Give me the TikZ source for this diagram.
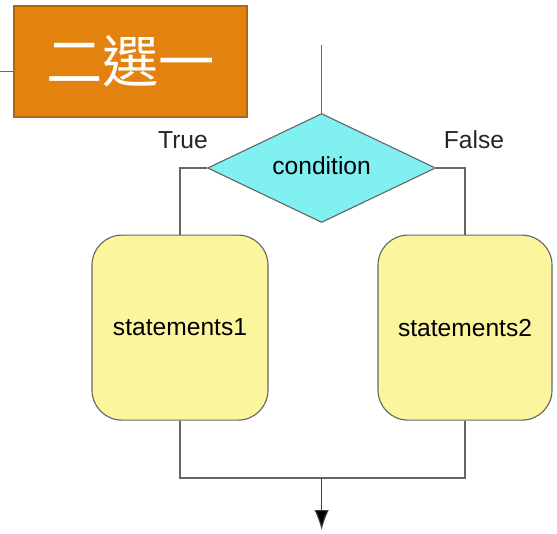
\documentclass[tikz,border=0pt]{standalone}
\usepackage{fontspec}
\setmainfont{Liberation Sans}
\newfontfamily\cjk{Noto Sans CJK TC}
\usepackage{xcolor}
\usetikzlibrary{shapes,shapes.geometric,arrows,arrows.meta,positioning,calc}

\definecolor{titleorange}{HTML}{E3820F}
\definecolor{titleedge}{HTML}{B4650C}
\definecolor{condcyan}{HTML}{80F0F0}
\definecolor{stmtyellow}{HTML}{FBF69E}
\definecolor{flowgray}{HTML}{666666}

\begin{document}
\begin{tikzpicture}[
  cond/.style={diamond, draw=flowgray, fill=condcyan, line width=0.8pt,
               minimum width=5.7cm, minimum height=2.725cm, aspect=2.09,
               inner sep=0pt, font=\fontsize{17.5}{20}\selectfont},
  stmt/.style={rectangle, rounded corners=0.75cm, draw=flowgray, fill=stmtyellow,
               line width=0.8pt, minimum height=4.625cm,
               font=\fontsize{17.5}{20}\selectfont},
  title/.style={rectangle, draw=titleedge, fill=titleorange, line width=1.2pt,
                minimum width=5.825cm, minimum height=2.775cm, text=white,
                font=\cjk\fontsize{40}{44}\selectfont},
  line/.style={draw=flowgray, line width=0.8pt},
  lbl/.style={font=\fontsize{17.5}{20}\selectfont, text=black!85}
]
\useasboundingbox (0,0) rectangle (13.925,-13.325);

\node[cond] (cond) at (8.04,-4.2) {\raisebox{3pt}{condition}};
\node[stmt, minimum width=4.4cm]  (stmtA) at (4.5,-8.19)    {statements1};
\node[stmt, minimum width=4.35cm] (stmtB) at (11.625,-8.19) {statements2};

\node[lbl] (true)  at (4.575,-3.5) {True};
\node[lbl] (false) at (11.85,-3.5) {False};

\coordinate (start) at (8.04,-1.125);
\coordinate (merge) at (8.04,-11.95);
\coordinate (exit)  at (8.04,-13.25);

\draw[line] (start) -- (cond.north);
\draw[line] (cond.west) -| (stmtA.north);
\draw[line] (cond.east) -| (stmtB.north);
\draw[line] (stmtA.south) |- (merge) -| (stmtB.south);
\draw[line, -{Latex[length=0.5cm,width=0.36cm,fill=black]}, draw=black!75] (merge) -- (exit);

% title tag
\node[title] (tag) at (3.2625,-1.5375) {二選一};
\coordinate (edge) at (0,-1.775);
\draw[draw=flowgray, line width=0.6pt] (edge) -- (edge -| tag.west);
\end{tikzpicture}
\end{document}
